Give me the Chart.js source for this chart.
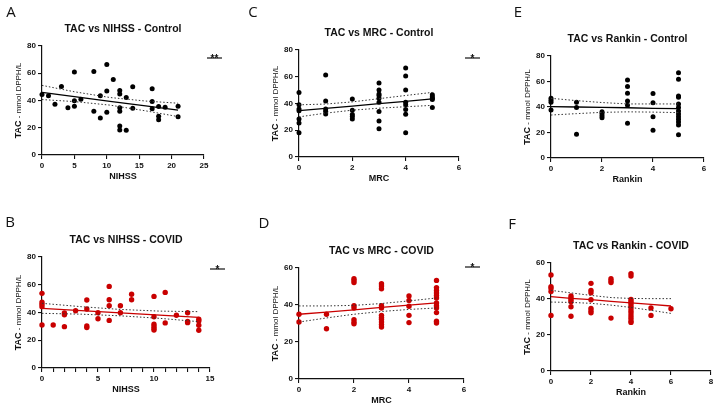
<!DOCTYPE html>
<html>
<head>
<meta charset="utf-8">
<script src="https://cdn.jsdelivr.net/npm/chart.js@4"></script>
<style>
  body { margin: 0; background: #fff; }
  #wrap { position: relative; width: 720px; height: 409px; background: #fff; }
  canvas { position: absolute; }
</style>
</head>
<body>
<div id="wrap">
  <canvas id="pA" width="240" height="200" style="left:0;top:0"></canvas>
  <canvas id="pC" width="240" height="200" style="left:240px;top:0"></canvas>
  <canvas id="pE" width="240" height="200" style="left:480px;top:0"></canvas>
  <canvas id="pB" width="240" height="209" style="left:0;top:200px"></canvas>
  <canvas id="pD" width="240" height="209" style="left:240px;top:200px"></canvas>
  <canvas id="pF" width="240" height="209" style="left:480px;top:200px"></canvas>
</div>
<script>
// A - TAC vs NIHSS - Control
const aX = [0,1,2,3,4,5,5,5,6,8,8,9,9,10,10,10,11,12,12,12,12,12,12,13,13,14,14,17,17,17,18,18,18,19,21,21];
const aY = [44.4,43.4,37.3,50.3,34.6,60.9,39.8,35.8,41.0,61.3,32.1,43.4,27.2,66.5,46.9,31.4,55.5,47.4,44.7,34.6,32.1,21.3,18.4,42.2,18.2,50.1,34.4,48.6,39.3,33.9,35.6,28.5,25.8,35.1,35.8,28.0];
const aFitX = [0,5,10.5,16,21];
const aFit = [45.9,42.8,39.4,36.0,32.9];
const aUp = [51.1,46.4,42.2,39.6,38.0];
const aLo = [40.7,39.2,36.6,32.4,28.2];

// C - TAC vs MRC - Control
const cX = [0,0,0,0,0,0,0,1,1,1,1,1,2,2,2,2,2,3,3,3,3,3,3,3,3,3,4,4,4,4,4,4,4,4,5,5,5,5,5];
const cY = [48.3,39.1,35.9,34.6,28.4,25.4,18.2,61.3,41.9,35.9,34.2,32.1,43.4,34.9,31.7,30.2,28.4,55.3,50.1,47.1,45.9,43.9,40.9,34.1,26.9,21.2,66.5,60.6,50.1,40.9,39.1,35.6,31.9,18.2,46.6,45.1,43.9,42.9,37.1];
const cFitX = [0,1,2,3,4,5];
const cFit = [34.6,36.4,38.1,39.9,41.6,43.4];
const cUp = [39.0,39.6,41.2,43.6,46.0,48.3];
const cLo = [30.0,32.8,35.0,36.5,37.6,38.6];

// E - TAC vs Rankin - Control
const eX = [0,0,0,0,1,1,1,2,2,2,2,3,3,3,3,3,3,4,4,4,4,5,5,5,5,5,5,5,5,5,5,5,5,5];
const eY = [46.8,45.3,43.7,37.6,43.7,39.7,18.6,36.2,34.9,33.2,31.6,61.2,56.0,50.7,44.7,41.3,27.2,50.5,43.4,32.4,21.7,66.9,61.7,48.6,47.6,42.4,39.7,36.9,34.5,32.4,30.3,28.2,25.9,18.3];
const eFitX = [0,1,2,3,4,5];
const eFit = [40.3,40.0,39.7,39.4,39.0,38.7];
const eUp = [46.8,45.0,43.5,42.4,42.4,42.4];
const eLo = [33.7,34.8,35.8,36.2,36.0,35.6];

// B - TAC vs NIHSS - COVID
const bX = [0,0,0,0,0,1,2,2,2,3,4,4,4,4,5,5,6,6,6,6,7,7,8,8,10,10,10,10,10,10,11,11,12,13,13,13,14,14,14,14];
const bY = [53.8,47.5,45.9,44.2,31.0,31.0,39.6,38.4,29.8,41.3,49.0,42.5,30.3,29.1,39.8,35.5,58.8,49.2,44.9,34.3,44.9,39.8,53.1,49.2,51.6,36.9,31.6,29.9,28.5,27.3,54.5,32.5,38.0,39.8,33.6,32.7,35.1,33.9,30.8,27.2];
const bFitX = [0,3.5,7,10.5,14];
const bFit = [43.0,41.4,39.8,38.1,36.5];
const bUp = [46.6,44.2,42.2,41.0,40.6];
const bLo = [39.4,38.8,37.6,35.8,33.4];

// D - TAC vs MRC - COVID
const dX = [0,0,1,1,2,2,2,2,2,2,2,2,3,3,3,3,3,3,3,3,3,3,3,4,4,4,4,4,5,5,5,5,5,5,5,5,5,5,5,5];
const dY = [35.0,30.8,35.0,27.2,54.2,53.3,52.1,39.6,38.4,32.1,30.8,29.9,51.5,50.3,48.8,39.6,38.4,34.4,33.2,32.3,30.8,29.4,28.1,44.9,42.5,39.3,34.4,30.5,53.3,49.4,47.9,46.5,45.2,43.8,41.1,39.6,38.4,35.9,31.2,30.3];
const dFitX = [0,1,2,3,4,5];
const dFit = [35.0,36.2,37.4,38.7,39.9,41.1];
const dUp = [39.5,39.5,39.8,40.8,42.2,43.8];
const dLo = [30.8,33.0,35.0,36.5,37.6,38.4];

// F - TAC vs Rankin - COVID
const fX = [0,0,0,0,0,1,1,1,1,1,1,2,2,2,2,2,2,2,3,3,3,3,4,4,4,4,4,4,4,4,4,4,4,4,4,5,5,6];
const fY = [53.3,46.9,45.8,44.1,30.9,41.7,40.6,39.6,38.5,35.7,30.4,48.7,44.8,43.5,39.6,34.8,33.5,32.4,51.3,50.2,49.1,29.4,54.1,52.8,39.8,38.7,37.6,36.3,35.0,33.5,32.2,30.7,29.3,27.8,27.0,35.0,30.9,34.6];
const fFitX = [0,1,2,3,4,5,6];
const fFit = [41.3,40.4,39.6,38.7,37.8,37.0,36.1];
const fUp = [44.8,43.4,42.0,40.8,40.3,40.2,40.2];
const fLo = [38.3,38.1,37.6,36.6,35.3,33.7,32.0];

const BLACK = "#000000";
const RED = "#c90000";
const FONT = "'Liberation Sans', Arial, sans-serif";

const pts = (xs, ys) => xs.map((x, i) => ({ x, y: ys[i] }));

// titulo, letra del panel, titulo del eje Y y marca de significancia
const extras = {
  id: "extras",
  afterDraw(chart, args, o) {
    const ctx = chart.ctx;
    const a = chart.chartArea;
    ctx.save();
    ctx.fillStyle = "#111";
    ctx.textAlign = "center";
    ctx.textBaseline = "middle";
    ctx.font = "bold 10.5px " + FONT;
    ctx.fillText(o.title, (a.left + a.right) / 2, a.top - 17);
    ctx.font = "15px 'Open Sans', sans-serif";
    ctx.fillText(o.letter, o.letterX, o.letterY);

    // eje Y: "TAC" en negrita y el resto mas pequeño
    const f1 = "bold 9px " + FONT, f2 = "8px " + FONT;
    const t1 = "TAC", t2 = " - mmol DPPH/L";
    ctx.font = f1; const w1 = ctx.measureText(t1).width;
    ctx.font = f2; const w2 = ctx.measureText(t2).width;
    ctx.translate(a.left - 23, (a.top + a.bottom) / 2 + (w1 + w2) / 2);
    ctx.rotate(-Math.PI / 2);
    ctx.textAlign = "left";
    ctx.font = f1; ctx.fillText(t1, 0, 0);
    ctx.font = f2; ctx.fillText(t2, w1, 0);
    ctx.setTransform(chart.currentDevicePixelRatio, 0, 0, chart.currentDevicePixelRatio, 0, 0);

    if (o.sig) {
      ctx.strokeStyle = "#111";
      ctx.lineWidth = 1.2;
      ctx.beginPath();
      ctx.moveTo(o.sigX, o.sigY);
      ctx.lineTo(o.sigX + 15, o.sigY);
      ctx.stroke();
      ctx.textAlign = "center";
      ctx.textBaseline = "alphabetic";
      ctx.font = "bold 10px " + FONT;
      ctx.fillText(o.sig, o.sigX + 7.5, o.sigY + 3.5);
    }
    ctx.restore();
  }
};

function lineSet(xs, ys, color, dashed) {
  return {
    data: pts(xs, ys),
    showLine: true,
    pointRadius: 0,
    borderColor: dashed ? "#333" : color,
    borderWidth: dashed ? 1 : 1.3,
    borderDash: dashed ? [1.5, 2] : [],
    fill: false,
    clip: false,
    order: 0
  };
}

function makePanel(id, p) {
  const canvas = document.getElementById(id);
  const offX = parseFloat(canvas.style.left) || 0;
  const offY = parseFloat(canvas.style.top) || 0;
  const W = canvas.width, H = canvas.height;
  const yW = 32, xH = 30;
  const axis = {
    grid: { drawOnChartArea: false, drawTicks: true, tickLength: 4, color: "#111", lineWidth: 1.1 },
    border: { display: true, color: "#111", width: 1.2 }
  };
  new Chart(canvas.getContext("2d"), {
    type: "scatter",
    data: {
      datasets: [
        lineSet(p.fitX, p.fit, p.color, false),
        lineSet(p.fitX, p.up, p.color, true),
        lineSet(p.fitX, p.lo, p.color, true),
        {
          data: pts(p.xs, p.ys),
          pointRadius: p.r,
          pointBackgroundColor: p.color,
          pointBorderColor: p.color,
          pointBorderWidth: 0,
          clip: false,
          order: 1
        }
      ]
    },
    options: {
      responsive: false,
      animation: false,
      layout: {
        padding: {
          left: p.area[0] - offX - yW,
          right: offX + W - p.area[2],
          top: p.area[1] - offY,
          bottom: offY + H - p.area[3] - xH
        }
      },
      plugins: {
        legend: { display: false },
        tooltip: { enabled: false },
        extras: {
          title: p.title,
          letter: p.letter,
          letterX: p.letterPos[0] - offX,
          letterY: p.letterPos[1] - offY,
          sig: p.sig,
          sigX: p.sig ? p.sigPos[0] - offX : 0,
          sigY: p.sig ? p.sigPos[1] - offY : 0
        }
      },
      scales: {
        x: {
          ...axis,
          min: 0,
          max: p.xMax,
          afterFit: s => { s.height = xH; },
          ticks: {
            stepSize: p.xStep,
            autoSkip: false,
            maxRotation: 0,
            padding: 2,
            color: "#111",
            font: { family: FONT, size: 8, weight: "bold" },
            callback: v => (v % p.xLabelEvery === 0 ? v : "")
          },
          title: {
            display: true,
            text: p.xTitle,
            color: "#111",
            padding: { top: 2, bottom: 3 },
            font: { family: FONT, size: 9, weight: "bold" }
          }
        },
        y: {
          ...axis,
          min: 0,
          max: p.yMax,
          afterFit: s => { s.width = yW; },
          ticks: {
            stepSize: 20,
            padding: 2,
            color: "#111",
            font: { family: FONT, size: 8, weight: "bold" }
          }
        }
      }
    },
    plugins: [extras]
  });
}

makePanel("pA", {
  xs: aX, ys: aY, fitX: aFitX, fit: aFit, up: aUp, lo: aLo, color: BLACK, r: 2.5,
  area: [42, 46, 204, 155], xMax: 25, xStep: 5, xLabelEvery: 5, yMax: 80,
  title: "TAC vs NIHSS - Control", xTitle: "NIHSS", letter: "A", letterPos: [11, 13],
  sig: "**", sigPos: [207, 58]
});
makePanel("pC", {
  xs: cX, ys: cY, fitX: cFitX, fit: cFit, up: cUp, lo: cLo, color: BLACK, r: 2.5,
  area: [299, 50, 459, 157], xMax: 6, xStep: 2, xLabelEvery: 2, yMax: 80,
  title: "TAC vs MRC - Control", xTitle: "MRC", letter: "C", letterPos: [253, 13],
  sig: "*", sigPos: [465, 58]
});
makePanel("pE", {
  xs: eX, ys: eY, fitX: eFitX, fit: eFit, up: eUp, lo: eLo, color: BLACK, r: 2.5,
  area: [551, 56, 704, 158], xMax: 6, xStep: 2, xLabelEvery: 2, yMax: 80,
  title: "TAC vs Rankin - Control", xTitle: "Rankin", letter: "E", letterPos: [518, 13]
});
makePanel("pB", {
  xs: bX, ys: bY, fitX: bFitX, fit: bFit, up: bUp, lo: bLo, color: RED, r: 2.7,
  area: [42, 257, 210, 368], xMax: 15, xStep: 1, xLabelEvery: 5, yMax: 80,
  title: "TAC vs NIHSS - COVID", xTitle: "NIHSS", letter: "B", letterPos: [10, 223],
  sig: "*", sigPos: [210, 269]
});
makePanel("pD", {
  xs: dX, ys: dY, fitX: dFitX, fit: dFit, up: dUp, lo: dLo, color: RED, r: 2.7,
  area: [299, 268, 464, 379], xMax: 6, xStep: 2, xLabelEvery: 2, yMax: 60,
  title: "TAC vs MRC - COVID", xTitle: "MRC", letter: "D", letterPos: [264, 224],
  sig: "*", sigPos: [465, 267]
});
makePanel("pF", {
  xs: fX, ys: fY, fitX: fFitX, fit: fFit, up: fUp, lo: fLo, color: RED, r: 2.7,
  area: [551, 263, 711, 371], xMax: 8, xStep: 2, xLabelEvery: 2, yMax: 60,
  title: "TAC vs Rankin - COVID", xTitle: "Rankin", letter: "F", letterPos: [512, 225]
});
</script>
</body>
</html>
